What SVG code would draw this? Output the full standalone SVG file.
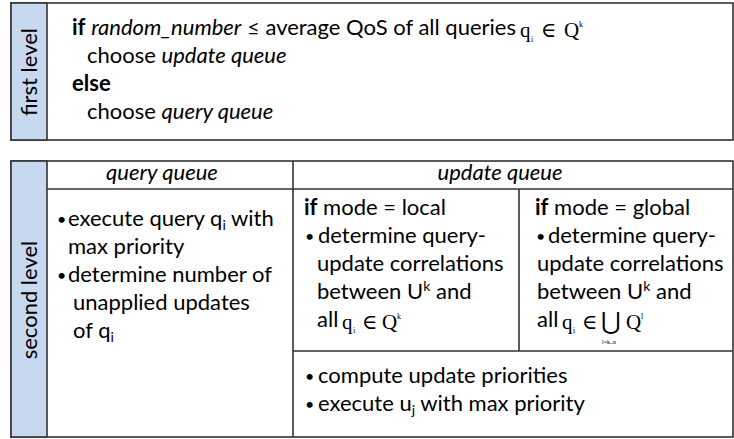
<svg xmlns="http://www.w3.org/2000/svg" width="734" height="439" viewBox="0 0 734 439">
<style>
.box{fill:#ffffff;stroke:#333333;stroke-width:1.6}
.side{fill:#c6d9f1;stroke:#333333;stroke-width:1.6}
.ln{stroke:#333333;stroke-width:1.6;fill:none}
text{font-family:Lato,"Open Sans",sans-serif;font-size:22px;fill:#000}
.b{font-weight:bold}
.i{font-style:italic}
.bul{font-size:16px}
.m{font-family:"Liberation Serif","DejaVu Serif",serif;font-size:21px}
.ms{font-family:"Liberation Serif","DejaVu Serif",serif;font-size:8px}
.sub{font-size:14px}
</style>
<g id="first-level">
<rect class="box" x="11" y="3" width="722" height="137"/>
<rect class="side" x="11" y="3" width="36" height="137"/>
<text transform="translate(37,72) rotate(-90)" text-anchor="middle">first level</text>
<text x="72" y="35"><tspan class="b">if</tspan> <tspan class="i">random_number</tspan> ≤ average QoS of all queries</text>
<text class="m" x="520" y="37">q</text><text class="ms" x="531" y="42">i</text>
<text class="m" x="541" y="37">∈</text><text class="m" x="564" y="37">Q</text><text class="ms" x="579" y="27">k</text>
<text x="87" y="63">choose <tspan class="i">update queue</tspan></text>
<text x="72" y="91" class="b">else</text>
<text x="87" y="119">choose <tspan class="i">query queue</tspan></text>
</g>
<g id="second-level">
<rect class="box" x="11" y="161" width="722" height="276"/>
<rect class="side" x="11" y="161" width="36" height="276"/>
<text transform="translate(37,300) rotate(-90)" text-anchor="middle">second level</text>
</g>
<g id="connectors">
<line class="ln" x1="47" y1="189" x2="733" y2="189"/>
<line class="ln" x1="293" y1="161" x2="293" y2="437"/>
<line class="ln" x1="519" y1="189" x2="519" y2="351"/>
<line class="ln" x1="293" y1="351" x2="733" y2="351"/>
</g>
<g id="query-queue">
<text x="162" y="180" class="i" text-anchor="middle">query queue</text>
<text x="57" y="225" class="bul">•</text><text x="68" y="226">execute query q<tspan class="sub" dy="4">i</tspan><tspan dy="-4"> with</tspan></text>
<text x="68" y="254">max priority</text>
<text x="57" y="281" class="bul">•</text><text x="68" y="282">determine number of</text>
<text x="73" y="310">unapplied updates</text>
<text x="73" y="338">of q<tspan class="sub" dy="4">i</tspan></text>
</g>
<g id="update-queue">
<text x="500" y="180" class="i" text-anchor="middle">update queue</text>
</g>
<g id="local-mode">
<text x="304" y="215"><tspan class="b">if</tspan> mode = local</text>
<text x="305" y="242" class="bul">•</text><text x="318" y="243">determine query-</text>
<text x="317" y="271">update correlations</text>
<text x="317" y="299">between U<tspan class="sub" dy="-8">k</tspan><tspan dy="8"> and</tspan></text>
<text x="317" y="327">all</text>
<text class="m" x="342" y="329">q</text><text class="ms" x="353" y="333">i</text>
<text class="m" x="362" y="329">∈</text><text class="m" x="382" y="329">Q</text><text class="ms" x="397" y="319">k</text>
</g>
<g id="global-mode">
<text x="535" y="215"><tspan class="b">if</tspan> mode = global</text>
<text x="536" y="242" class="bul">•</text><text x="548" y="243">determine query-</text>
<text x="537" y="271">update correlations</text>
<text x="537" y="299">between U<tspan class="sub" dy="-8">k</tspan><tspan dy="8"> and</tspan></text>
<text x="537" y="327">all</text>
<text class="m" x="562" y="329">q</text><text class="ms" x="573" y="333">i</text>
<text class="m" x="582" y="329">∈</text>
<text class="m" x="601" y="329" style="font-size:24px">⋃</text>
<text class="ms" x="609" y="344" text-anchor="middle" style="font-size:6px">l=k..n</text>
<text class="m" x="626" y="329">Q</text><text class="ms" x="641" y="319">l</text>
</g>
<g id="update-steps">
<text x="305" y="382" class="bul">•</text><text x="318" y="383">compute update priorities</text>
<text x="305" y="410" class="bul">•</text><text x="318" y="411">execute u<tspan class="sub" dy="4">j</tspan><tspan dy="-4"> with max priority</tspan></text>
</g>
</svg>
